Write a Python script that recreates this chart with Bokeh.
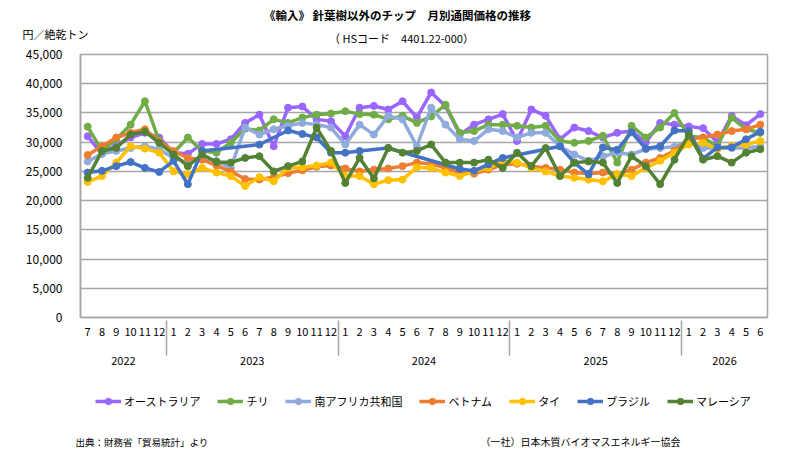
from bokeh.plotting import figure
from bokeh.layouts import column
from bokeh.models import (FactorRange, Range1d, NumeralTickFormatter, SingleIntervalTicker,
                          Legend, LegendItem, Label)
from bokeh.embed import file_html
from bokeh.resources import INLINE

NaN = float("nan")

years = ["2022"] * 6 + ["2023"] * 12 + ["2024"] * 12 + ["2025"] * 12 + ["2026"] * 6
months = (["7", "8", "9", "10", "11", "12"]
          + ["1", "2", "3", "4", "5", "6", "7", "8", "9", "10", "11", "12"]
          + ["1", "2", "3", "4", "5", "6", "7", "8", "9", "10", "11", "12"]
          + ["1", "2", "3", "4", "5", "6", "7", "8", "9", "10", "11", "12"]
          + ["1", "2", "3", "4", "5", "6"])
# middle level is a blank spacer row between month and year labels
factors = [(y, " ", m) for y, m in zip(years, months)]

australia = [31000, 28000, 29500, 30800, 31600, 30800,
             28200, 28000, 29700, 29700, 30500, 33300, 34700, 29300, 35900, 36100, 33900, 33600,
             31000, 35900, 36200, 35600, 37000, 34200, 38500, 36200, 31300, 33000, 33900, 34800,
             30200, 35600, 34500, 30500, 32500, 31900, 30800, 31600, 31900, 30000, 33300, 33000,
             32700, 32400, 30000, 34500, 32900, 34800]
chile = [32650, 28500, 30500, 33000, 37000, 30200,
         28200, 30800, 28500, 28200, 29900, 32300, 32000, 33900, 33300, 34200, 34700, 34900,
         35300, 34800, 34700, 33900, 34500, 33300, 34400, 36400, 31600, 31900, 33000, 33000,
         32800, 32500, 32800, 30200, 29900, 30200, 31100, 26500, 32800, 30800, 32500, 35000,
         31000, 30800, 29300, 34200, 32200, 31600]
south_africa = [26700, 28000, 28500, 29000, 29300, 28800,
                27300, 26500, 27300, 26800, 25600, 32500, 31300, 32200, 32800, 33300, 33000, 32500,
                29600, 33000, 31300, 34500, 33900, 29300, 35900, 33000, 30500, 30200, 32200, 31900,
                30800, 31600, 31600, 29300, 27900, 26800, 27600, 28200, 27900, 28800, 29000, 29200,
                30200, 29000, 29000, 29000, 29000, 29300]
vietnam = [27800, 29300, 30800, 31600, 32200, 30200,
           28500, 27300, 27000, 26000, 25000, 23700, 23600, 24000, 24700, 25200, 25800, 26000,
           25500, 25000, 25300, 25500, 25900, 26500, 26300, 25600, 24800, 24600, 25300, 26100,
           26300, 25900, 25600, 25300, 24800, 24600, 24800, 24500, 25300, 26500, 27300, 28500,
           30500, 30800, 31300, 31900, 32200, 33000]
thailand = [23200, 24200, 26500, 29300, 28900, 28200,
            25000, 24500, 25600, 24800, 24200, 22500, 24000, 23300, 25600, 25700, 26000, 26500,
            24200, 24200, 22800, 23500, 23600, 25700, 25600, 24800, 24200, 25000, 25600, 26800,
            26500, 25600, 25000, 24200, 23900, 23600, 23300, 24500, 24200, 25600, 26800, 28200,
            29600, 29900, 28800, 29400, 29600, 30200]
brazil = [24800, 25100, 25900, 26600, 25600, 24900,
          26800, 22800, 28500, NaN, NaN, NaN, 29600, NaN, 32000, 31400, 30800, 28200,
          28200, 28500, NaN, 29000, NaN, NaN, NaN, NaN, 25400, 25100, 26200, 27300,
          NaN, NaN, NaN, 29300, 26500, 24500, 29100, 28700, 31700, 28900, 29300, 32000,
          31900, 27200, 29100, 29100, 30500, 31800]
malaysia = [23900, 28500, 29000, 31300, 31800, 29900,
            27900, 25900, 27900, 26600, 26500, 27300, 27600, 25000, 25900, 26700, 32500, 28500,
            23000, 27300, 23800, 29000, 28200, 28500, 29600, 26500, 26500, 26500, 27000, 25600,
            28200, 25900, 29000, 24200, 26500, 26700, 26500, 23000, 27600, 25900, 22800, 27000,
            31300, 27000, 27600, 26500, 28200, 28800]

series_names = ["オーストラリア", "チリ", "南アフリカ共和国", "ベトナム", "タイ", "ブラジル", "マレーシア"]
series_values = [australia, chile, south_africa, vietnam, thailand, brazil, malaysia]
series_colors = ["#9966ff", "#70ad47", "#8faadc", "#ed7d31", "#ffc000", "#4472c4", "#548235"]

FONT = "Noto Sans CJK JP"
GRID = "#a6a6a6"
W = 795


def blank_fig(h):
    f = figure(width=W, height=h, x_range=Range1d(0, W), y_range=Range1d(0, h),
               x_axis_type=None, y_axis_type=None, output_backend="svg",
               toolbar_location=None, min_border=0, min_border_left=0, min_border_right=0,
               min_border_top=0, min_border_bottom=0, frame_align=False)
    f.outline_line_color = None
    f.xgrid.visible = False
    f.ygrid.visible = False
    f.background_fill_color = "white"
    f.border_fill_color = "white"
    return f


def add_label(f, text, x, y, size, align="left", style="normal"):
    f.add_layout(Label(x=x, y=y, text=text, text_font=FONT, text_font_size=size,
                       text_font_style=style, text_align=align, text_baseline="middle",
                       text_color="#000000"))


# header: title, subtitle, unit
HH = 44
header = blank_fig(HH)
add_label(header, "《輸入》 針葉樹以外のチップ　月別通関価格の推移", 397, HH - 14, "11.5px", "center", "bold")
add_label(header, "（ HSコード　4401.22-000）", 401, HH - 37, "11px", "center")
add_label(header, "円／絶乾トン", 22, HH - 33, "11px")

# main chart
MH = 326
p = figure(width=W, height=MH,
           x_range=FactorRange(*factors, factor_padding=0, group_padding=0,
                               subgroup_padding=0, range_padding=0),
           y_range=Range1d(0, 45000),
           output_backend="svg", toolbar_location=None, frame_align=False,
           min_border_left=80, min_border_right=28, min_border_top=10, min_border_bottom=53)
p.outline_line_color = GRID
p.outline_line_width = 1.5
p.background_fill_color = "white"
p.border_fill_color = "white"

p.xgrid.visible = False
p.ygrid.grid_line_color = GRID
p.ygrid.grid_line_width = 1.5

yax = p.yaxis[0]
yax.ticker = SingleIntervalTicker(interval=5000)
yax.formatter = NumeralTickFormatter(format="0,0")
yax.major_tick_line_color = None
yax.minor_tick_line_color = None
yax.axis_line_color = GRID
yax.axis_line_width = 1.5
yax.major_label_text_font = FONT
yax.major_label_text_font_size = "12px"
yax.major_label_text_color = "#000000"
yax.major_label_standoff = 12

xax = p.xaxis[0]
xax.major_tick_line_color = None
xax.minor_tick_line_color = None
xax.axis_line_color = GRID
xax.axis_line_width = 1.5
xax.major_label_text_font = FONT
xax.major_label_text_font_size = "11px"
xax.major_label_text_color = "#000000"
xax.major_label_standoff = 4
xax.subgroup_text_font = FONT
xax.subgroup_text_font_size = "5px"
xax.subgroup_text_color = "#ffffff"
xax.group_text_font = FONT
xax.group_text_font_size = "11px"
xax.group_text_font_style = "normal"
xax.group_text_color = "#000000"
xax.separator_line_color = GRID
xax.separator_line_width = 1.5

for vals, color in zip(series_values, series_colors):
    xs = [f for f, v in zip(factors, vals) if v == v]
    ys = [v for v in vals if v == v]
    p.line(xs, ys, line_width=3.5, line_color=color, line_join="round")
    p.scatter(xs, ys, marker="circle", size=7, fill_color=color, line_color=color)

# footer: legend and sources
FH = 459 - HH - MH
footer = blank_fig(FH)
items = []
for name, color in zip(series_names, series_colors):
    r1 = footer.line([NaN], [NaN], line_width=3.5, line_color=color)
    r2 = footer.scatter([NaN], [NaN], marker="circle", size=7, fill_color=color, line_color=color)
    items.append(LegendItem(label=name, renderers=[r1, r2]))
legend = Legend(items=items, orientation="horizontal", location=(95, FH - 39),
                label_text_font=FONT, label_text_font_size="11px", label_text_color="#000000",
                glyph_width=26, glyph_height=16, label_standoff=3, spacing=17,
                border_line_color=None, background_fill_alpha=0,
                margin=0, padding=0)
footer.add_layout(legend, "center")
add_label(footer, "出典：財務省「貿易統計」より", 75, FH - 71, "9.5px")
add_label(footer, "（一社）日本木質バイオマスエネルギー協会", 480, FH - 71, "10px")

layout = column(header, p, footer, spacing=0)
open("out.html", "w").write(file_html(layout, INLINE))
